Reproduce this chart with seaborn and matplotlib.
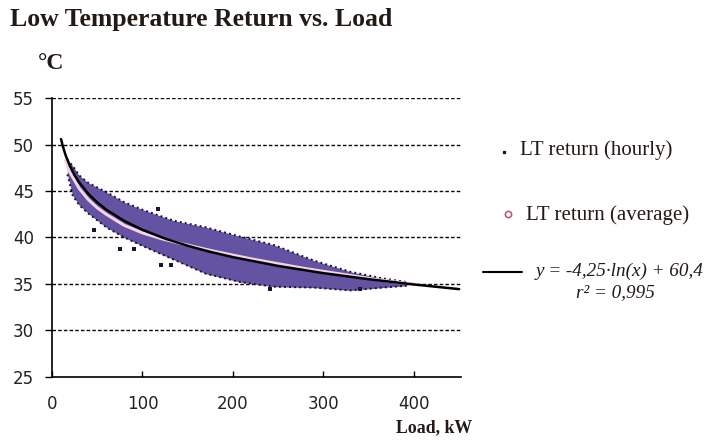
import numpy as np
import pandas as pd
import matplotlib
matplotlib.use("Agg")
import matplotlib.pyplot as plt
from matplotlib.lines import Line2D
import seaborn as sns

# Hourly return temperatures: envelope of the hourly cloud (load kW -> upper / lower degC)
band_load = [17, 23, 30, 40, 60, 80, 100, 135, 170, 208, 245, 290, 330, 365, 392]
band_high = [48.4, 47.7, 46.7, 45.9, 44.9, 43.8, 43.0, 41.8, 41.1, 40.1, 39.2, 37.5, 36.3, 35.6, 35.2]
band_low = [46.8, 44.5, 43.5, 42.6, 41.1, 40.0, 39.1, 37.6, 36.1, 35.2, 34.7, 34.6, 34.3, 34.6, 34.8]

# Isolated hourly readings lying outside the main cloud
out_load = [47, 75, 91, 117, 121, 132, 241, 340]
out_temp = [40.8, 38.8, 38.8, 43.1, 37.0, 37.0, 34.5, 34.4]

# Average return temperature per load bin
avg_load = [15, 20, 30, 40, 50, 60, 80, 100, 120, 140, 160, 180, 200, 220, 240,
            260, 280, 300, 320, 340, 360, 380, 400]
avg_temp = [48.3, 47.0, 45.3, 44.1, 43.2, 42.5, 41.3, 40.5, 39.9, 39.4, 38.95, 38.5,
            38.1, 37.7, 37.35, 37.0, 36.65, 36.35, 36.05, 35.75, 35.45, 35.2, 35.0]

# Logarithmic fit y = a*ln(x) + b
fit_a = -4.25
fit_b = 60.4
fit_load = [10, 12, 15, 20, 25, 30, 40, 50, 60, 80, 100, 125, 150, 175, 200, 250,
            300, 350, 400, 450]

y_ticks = [25, 30, 35, 40, 45, 50, 55]
x_ticks = [0, 100, 200, 300, 400]

sns.set_theme(style="white")
plt.rcParams["font.family"] = ["DejaVu Sans"]

fig = plt.figure(figsize=(7.07, 4.44), dpi=100)
ax = fig.add_axes([0.0735, 0.1516, 0.5785, 0.627])

band = pd.DataFrame({"load": band_load, "high": band_high, "low": band_low})
ax.fill_between(band["load"], band["low"], band["high"], color="#6452a2", lw=0, zorder=2)
for col in ["high", "low"]:
    sns.lineplot(data=band, x="load", y=col, ax=ax, color="#1c1430", lw=1.4,
                 linestyle=(0, (1, 1.6)), zorder=3)

sns.scatterplot(x=out_load, y=out_temp, ax=ax, color="#1c1430", marker="s", s=5,
                linewidth=0, zorder=3)

sns.lineplot(x=avg_load, y=avg_temp, ax=ax, color="#f2d4e2", lw=2.2, zorder=4)

fit_df = pd.DataFrame({"load": fit_load})
fit_df["temp"] = fit_a * np.log(fit_df["load"]) + fit_b
sns.lineplot(data=fit_df, x="load", y="temp", ax=ax, color="black", lw=1.8, zorder=5)

ax.set_xlim(0, 452)
ax.set_ylim(25, 55)
ax.set_xticks(x_ticks)
ax.set_yticks(y_ticks)
ax.set_xlabel("")
ax.set_ylabel("")
for y in y_ticks[1:]:
    ax.axhline(y, color="black", lw=1.0, linestyle=(0, (2.5, 1.6)), zorder=1)

for side in ["top", "right"]:
    ax.spines[side].set_visible(False)
for side in ["left", "bottom"]:
    ax.spines[side].set_color("black")
    ax.spines[side].set_linewidth(1.2)

ax.tick_params(axis="y", direction="out", length=5, width=1, pad=8, colors="black",
               labelsize=12, left=True)
ax.tick_params(axis="x", direction="in", length=4, width=1, pad=13, colors="black",
               labelsize=12, bottom=True)
for lab in ax.get_xticklabels() + ax.get_yticklabels():
    lab.set_color("#222222")

serif = ["Liberation Serif", "DejaVu Serif"]
fig.text(0.014, 0.955, "Low Temperature Return vs. Load", family=serif,
         fontsize=18.5, fontweight="bold", color="#231a16", va="center", ha="left")
fig.text(0.053, 0.857, "°C", family=serif, fontsize=17, fontweight="bold",
         color="#231a16", va="center", ha="left")
fig.text(0.668, 0.036, "Load, kW", family=serif, fontsize=12.8, fontweight="bold",
         color="#231a16", va="center", ha="right")

# Legend entries
fig.add_artist(Line2D([0.713], [0.658], transform=fig.transFigure, marker="s",
                      markersize=1.8, color="#1c1430", linestyle="none"))
fig.text(0.735, 0.662, "LT return (hourly)", family=serif, fontsize=15,
         color="#231a16", va="center", ha="left")
fig.add_artist(Line2D([0.719], [0.518], transform=fig.transFigure, marker="o",
                      markersize=4.5, markerfacecolor="none", markeredgecolor="#b0607e",
                      markeredgewidth=1.2, linestyle="none"))
fig.text(0.744, 0.516, "LT return (average)", family=serif, fontsize=15,
         color="#231a16", va="center", ha="left")
fig.add_artist(Line2D([0.683, 0.738], [0.388, 0.388], transform=fig.transFigure,
                      color="black", lw=1.5))
fig.text(0.757, 0.388, "y = -4,25·ln(x) + 60,4", family=serif, fontsize=13.8,
         style="italic", color="#231a16", va="center", ha="left")
fig.text(0.870, 0.340, "r² = 0,995", family=serif, fontsize=13.8, style="italic",
         color="#231a16", va="center", ha="center")

fig.savefig("out.png", dpi=100)
